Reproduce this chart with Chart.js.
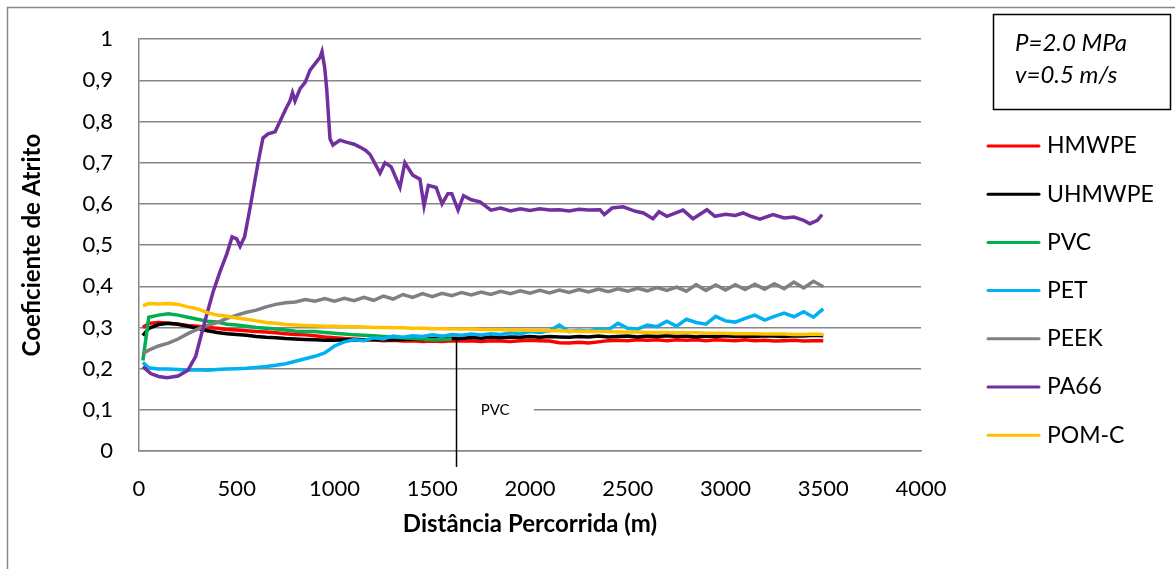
<!DOCTYPE html>
<html>
<head>
<meta charset="utf-8">
<script src="https://cdn.jsdelivr.net/npm/chart.js@4"></script>
<style>
  body { margin: 0; background: #fff; }
  canvas { display: block; }
</style>
</head>
<body>
<canvas id="myChart" width="1175" height="569"></canvas>
<script>
// distance grid (m) shared by most series
const distance = [20, 50, 100, 150, 200, 250, 300, 350, 400, 450, 500, 550, 600, 650, 700, 750, 800, 850, 900, 950,
  1000, 1050, 1100, 1150, 1200, 1250, 1300, 1350, 1400, 1450, 1500, 1550, 1600, 1650, 1700, 1750, 1800, 1850, 1900, 1950,
  2000, 2050, 2100, 2150, 2200, 2250, 2300, 2350, 2400, 2450, 2500, 2550, 2600, 2650, 2700, 2750, 2800, 2850, 2900, 2950,
  3000, 3050, 3100, 3150, 3200, 3250, 3300, 3350, 3400, 3450, 3500];

const hmwpe = [0.300, 0.310, 0.312, 0.310, 0.308, 0.305, 0.303, 0.300, 0.298, 0.295, 0.294, 0.292, 0.290, 0.289, 0.287, 0.285, 0.283, 0.282, 0.280, 0.277,
  0.275, 0.273, 0.272, 0.270, 0.270, 0.268, 0.269, 0.267, 0.268, 0.266, 0.267, 0.266, 0.268, 0.267, 0.268, 0.266, 0.268, 0.267, 0.266, 0.268,
  0.269, 0.268, 0.267, 0.263, 0.262, 0.264, 0.262, 0.265, 0.268, 0.269, 0.268, 0.270, 0.269, 0.270, 0.268, 0.270, 0.269, 0.270, 0.268, 0.270,
  0.269, 0.268, 0.270, 0.268, 0.269, 0.267, 0.268, 0.269, 0.267, 0.268, 0.268];

const uhmwpe = [0.280, 0.298, 0.307, 0.310, 0.308, 0.303, 0.298, 0.292, 0.288, 0.285, 0.283, 0.281, 0.278, 0.276, 0.275, 0.273, 0.272, 0.271, 0.270, 0.269,
  0.269, 0.270, 0.269, 0.270, 0.270, 0.271, 0.270, 0.271, 0.272, 0.271, 0.273, 0.272, 0.274, 0.273, 0.276, 0.274, 0.277, 0.275, 0.277, 0.276,
  0.278, 0.276, 0.278, 0.277, 0.276, 0.278, 0.277, 0.279, 0.277, 0.278, 0.279, 0.277, 0.279, 0.278, 0.280, 0.278, 0.279, 0.277, 0.279, 0.278,
  0.280, 0.278, 0.279, 0.278, 0.280, 0.279, 0.278, 0.280, 0.279, 0.281, 0.280];

// PVC test stops at ~1600 m
const pvc = [0.220, 0.325, 0.330, 0.333, 0.330, 0.325, 0.320, 0.315, 0.313, 0.308, 0.306, 0.303, 0.300, 0.298, 0.296, 0.294, 0.291, 0.290, 0.290, 0.288,
  0.286, 0.284, 0.282, 0.281, 0.280, 0.278, 0.276, 0.275, 0.273, 0.272, 0.270, 0.271, 0.272];

const pet = [0.215, 0.202, 0.199, 0.199, 0.198, 0.197, 0.197, 0.196, 0.198, 0.199, 0.200, 0.201, 0.203, 0.205, 0.208, 0.212, 0.218, 0.224, 0.230, 0.238,
  0.255, 0.265, 0.270, 0.268, 0.275, 0.272, 0.279, 0.276, 0.280, 0.278, 0.282, 0.279, 0.283, 0.281, 0.284, 0.282, 0.285, 0.283, 0.287, 0.285,
  0.290, 0.288, 0.292, 0.306, 0.290, 0.293, 0.291, 0.297, 0.294, 0.310, 0.298, 0.296, 0.306, 0.302, 0.315, 0.303, 0.320, 0.312, 0.308, 0.327,
  0.316, 0.313, 0.322, 0.330, 0.318, 0.327, 0.335, 0.326, 0.338, 0.325, 0.345];

const peek = [0.237, 0.245, 0.255, 0.262, 0.272, 0.285, 0.296, 0.305, 0.312, 0.322, 0.330, 0.337, 0.342, 0.350, 0.356, 0.360, 0.362, 0.368, 0.364, 0.370,
  0.364, 0.371, 0.365, 0.373, 0.366, 0.376, 0.369, 0.380, 0.373, 0.382, 0.375, 0.383, 0.377, 0.385, 0.379, 0.386, 0.380, 0.388, 0.382, 0.389,
  0.383, 0.390, 0.384, 0.391, 0.385, 0.392, 0.386, 0.393, 0.387, 0.394, 0.388, 0.395, 0.389, 0.397, 0.390, 0.398, 0.388, 0.404, 0.390, 0.403,
  0.391, 0.404, 0.392, 0.405, 0.393, 0.406, 0.394, 0.410, 0.396, 0.412, 0.399];

const pomc = [0.353, 0.358, 0.357, 0.358, 0.356, 0.350, 0.345, 0.336, 0.330, 0.327, 0.323, 0.320, 0.316, 0.312, 0.310, 0.307, 0.306, 0.305, 0.304, 0.303,
  0.303, 0.302, 0.302, 0.301, 0.300, 0.300, 0.299, 0.299, 0.298, 0.298, 0.297, 0.297, 0.296, 0.296, 0.296, 0.295, 0.295, 0.295, 0.294, 0.294,
  0.293, 0.293, 0.292, 0.292, 0.291, 0.291, 0.290, 0.290, 0.290, 0.289, 0.289, 0.289, 0.288, 0.288, 0.288, 0.287, 0.287, 0.287, 0.286, 0.286,
  0.286, 0.285, 0.285, 0.285, 0.284, 0.284, 0.284, 0.283, 0.283, 0.284, 0.283];

// PA66 has its own sampling (sharp peak near 940 m)
const pa66Distance = [20, 60, 100, 143, 200, 250, 290, 312, 340, 378, 414, 450, 476, 500, 517, 540, 568, 609, 634, 660,
  696, 721, 750, 772, 785, 798, 824, 850, 875, 900, 926, 936, 950, 960, 977, 992, 1028, 1060, 1100, 1130,
  1160, 1182, 1233, 1258, 1290, 1335, 1360, 1400, 1437, 1458, 1480, 1520, 1550, 1580, 1600, 1632, 1660, 1700, 1744, 1800,
  1850, 1900, 1950, 2000, 2050, 2100, 2150, 2200, 2250, 2300, 2358, 2380, 2420, 2476, 2540, 2580, 2629, 2660, 2700, 2783,
  2834, 2905, 2946, 3000, 3050, 3090, 3130, 3176, 3243, 3300, 3350, 3400, 3432, 3470, 3494];
const pa66 = [0.205, 0.188, 0.181, 0.178, 0.182, 0.196, 0.230, 0.270, 0.320, 0.385, 0.435, 0.480, 0.520, 0.515, 0.497, 0.520, 0.590, 0.700, 0.760, 0.770,
  0.775, 0.800, 0.830, 0.850, 0.870, 0.850, 0.880, 0.895, 0.925, 0.940, 0.956, 0.970, 0.930, 0.880, 0.758, 0.743, 0.755, 0.750, 0.745, 0.738,
  0.730, 0.720, 0.675, 0.700, 0.690, 0.640, 0.700, 0.670, 0.660, 0.595, 0.645, 0.640, 0.600, 0.625, 0.625, 0.585, 0.620, 0.610, 0.605, 0.585,
  0.590, 0.583, 0.588, 0.584, 0.588, 0.585, 0.586, 0.583, 0.587, 0.585, 0.586, 0.574, 0.590, 0.593, 0.582, 0.578, 0.564, 0.581, 0.570, 0.585,
  0.564, 0.586, 0.570, 0.575, 0.572, 0.578, 0.570, 0.563, 0.574, 0.566, 0.568, 0.560, 0.552, 0.560, 0.574];

const seriesNames = ['HMWPE', 'UHMWPE', 'PVC', 'PET', 'PEEK', 'PA66', 'POM-C'];
const seriesColors = ['#FF0000', '#000000', '#00B050', '#00B0F0', '#808080', '#7030A0', '#FFC000'];
const yTicks = [0, 0.1, 0.2, 0.3, 0.4, 0.5, 0.6, 0.7, 0.8, 0.9, 1];
const pvcEndDistance = 1620;

function toPoints(xs, ys) {
  return ys.map((y, i) => ({ x: xs[i], y: y }));
}

const seriesData = [
  toPoints(distance, hmwpe),
  toPoints(distance, uhmwpe),
  toPoints(distance, pvc),
  toPoints(distance, pet),
  toPoints(distance, peek),
  toPoints(pa66Distance, pa66),
  toPoints(distance, pomc)
];

const datasets = seriesNames.map((name, i) => ({
  label: name,
  data: seriesData[i],
  borderColor: seriesColors[i],
  backgroundColor: seriesColors[i],
  borderWidth: 3.5,
  pointRadius: 0,
  tension: 0,
  fill: false,
  order: seriesNames.length - i // later series on top, like Excel
}));

const FONT = 'Lato, "Liberation Sans", sans-serif';
Chart.defaults.font.family = FONT;
Chart.defaults.color = '#000';

// page frame, legend, parameter box and the PVC callout
const extras = {
  id: 'extras',
  beforeDraw(chart) {
    const c = chart.ctx;
    c.save();
    c.fillStyle = '#fff';
    c.fillRect(0, 0, chart.width, chart.height);
    c.strokeStyle = '#868686';
    c.lineWidth = 1.5;
    c.beginPath();
    c.moveTo(7.5, chart.height);
    c.lineTo(7.5, 7.5);
    c.lineTo(chart.width, 7.5);
    c.stroke();
    c.restore();
  },
  afterDraw(chart) {
    const c = chart.ctx;
    const xs = chart.scales.x, ys = chart.scales.y;
    c.save();

    // PVC callout
    const px = Math.round(xs.getPixelForValue(pvcEndDistance)) + 0.5;
    const gy = ys.getPixelForValue(0.1);
    const boxEnd = xs.getPixelForValue(2020);
    c.fillStyle = '#fff';
    c.fillRect(px + 1, gy - 9, boxEnd - px - 1, 18);
    c.strokeStyle = '#000';
    c.lineWidth = 1.5;
    c.beginPath();
    c.moveTo(px, ys.getPixelForValue(0.272));
    c.lineTo(px, chart.chartArea.bottom + 16);
    c.stroke();
    c.fillStyle = '#000';
    c.font = '15px ' + FONT;
    c.textAlign = 'center';
    c.textBaseline = 'middle';
    c.fillText('PVC', (px + boxEnd) / 2, gy);

    // parameter box
    c.lineWidth = 1.5;
    c.strokeStyle = '#000';
    c.strokeRect(993.5, 14.5, 177, 95);
    c.font = 'italic 24px ' + FONT;
    c.textAlign = 'left';
    c.textBaseline = 'alphabetic';
    c.fillText('P=2.0 MPa', 1015, 51);
    c.fillText('v=0.5 m/s', 1015, 83);

    // legend
    c.font = '23px ' + FONT;
    c.textBaseline = 'middle';
    seriesNames.forEach((name, i) => {
      const y = 146 + i * 48.2;
      c.strokeStyle = seriesColors[i];
      c.lineWidth = 3;
      c.lineCap = 'round';
      c.beginPath();
      c.moveTo(988, y);
      c.lineTo(1039, y);
      c.stroke();
      c.fillText(name, 1047, y);
    });
    c.restore();
  }
};

const ctx = document.getElementById('myChart').getContext('2d');
const myChart = new Chart(ctx, {
  type: 'line',
  data: { datasets: datasets },
  options: {
    responsive: false,
    animation: false,
    layout: { padding: { top: 37, right: 254, bottom: 0, left: 0 } },
    plugins: {
      legend: { display: false },
      tooltip: { enabled: false }
    },
    scales: {
      x: {
        type: 'linear',
        min: 0,
        max: 4000,
        afterFit: (s) => { s.height = 118; },
        ticks: { stepSize: 500, padding: 17, font: { size: 22 }, maxRotation: 0, callback: (v) => String(v) },
        grid: { display: false },
        border: { display: true, color: '#868686', width: 1.5 },
        title: {
          display: true,
          text: 'Distância Percorrida (m)',
          font: { size: 24, weight: 'bold' },
          padding: { top: 0, bottom: 30 }
        }
      },
      y: {
        min: 0,
        max: 1,
        afterFit: (s) => { s.width = 139; },
        afterBuildTicks: (s) => { s.ticks = yTicks.map(v => ({ value: v })); },
        ticks: {
          padding: 26,
          font: { size: 22 },
          callback: (v) => String(Math.round(v * 10) / 10).replace('.', ',')
        },
        grid: { color: '#868686', lineWidth: 1.5, drawTicks: false },
        border: { display: true, color: '#868686', width: 1.5 },
        title: {
          display: true,
          text: 'Coeficiente de Atrito',
          font: { size: 24, weight: 'bold' },
          padding: { top: 18, bottom: 0 }
        }
      }
    }
  },
  plugins: [extras]
});
</script>
</body>
</html>
